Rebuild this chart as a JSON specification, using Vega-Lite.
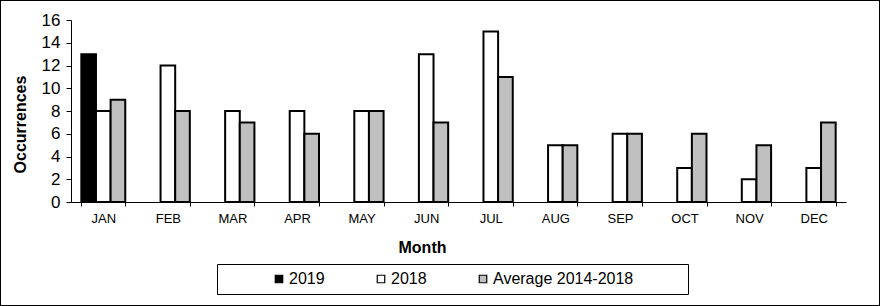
{
  "$schema": "https://vega.github.io/schema/vega-lite/v6.json",
  "width": 880,
  "height": 306,
  "autosize": "none",
  "padding": 0,
  "background": "white",
  "config": {
    "view": {"stroke": "black", "strokeWidth": 2},
    "font": "Liberation Sans",
    "axis": {"labelColor": "black", "titleColor": "black", "tickColor": "black", "domainColor": "black", "grid": false, "labelFont": "Liberation Sans", "titleFont": "Liberation Sans"},
    "legend": {"labelFont": "Liberation Sans", "labelColor": "black"}
  },
  "data": {
    "values": [
      {"month": "JAN", "series": "2019", "value": 13},
      {"month": "JAN", "series": "2018", "value": 8},
      {"month": "JAN", "series": "Average 2014-2018", "value": 9},
      {"month": "FEB", "series": "2018", "value": 12},
      {"month": "FEB", "series": "Average 2014-2018", "value": 8},
      {"month": "MAR", "series": "2018", "value": 8},
      {"month": "MAR", "series": "Average 2014-2018", "value": 7},
      {"month": "APR", "series": "2018", "value": 8},
      {"month": "APR", "series": "Average 2014-2018", "value": 6},
      {"month": "MAY", "series": "2018", "value": 8},
      {"month": "MAY", "series": "Average 2014-2018", "value": 8},
      {"month": "JUN", "series": "2018", "value": 13},
      {"month": "JUN", "series": "Average 2014-2018", "value": 7},
      {"month": "JUL", "series": "2018", "value": 15},
      {"month": "JUL", "series": "Average 2014-2018", "value": 11},
      {"month": "AUG", "series": "2018", "value": 5},
      {"month": "AUG", "series": "Average 2014-2018", "value": 5},
      {"month": "SEP", "series": "2018", "value": 6},
      {"month": "SEP", "series": "Average 2014-2018", "value": 6},
      {"month": "OCT", "series": "2018", "value": 3},
      {"month": "OCT", "series": "Average 2014-2018", "value": 6},
      {"month": "NOV", "series": "2018", "value": 2},
      {"month": "NOV", "series": "Average 2014-2018", "value": 5},
      {"month": "DEC", "series": "2018", "value": 3},
      {"month": "DEC", "series": "Average 2014-2018", "value": 7}
    ]
  },
  "mark": {"type": "bar", "stroke": "black", "strokeWidth": 2},
  "encoding": {
    "x": {
      "field": "month",
      "type": "nominal",
      "sort": ["JAN", "FEB", "MAR", "APR", "MAY", "JUN", "JUL", "AUG", "SEP", "OCT", "NOV", "DEC"],
      "scale": {"range": [71, 846], "paddingInner": 0.32, "paddingOuter": 0.16},
      "axis": {
        "title": "Month",
        "offset": -104,
        "labelAngle": 0,
        "tickBand": "extent",
        "tickSize": 4,
        "labelFontSize": 13,
        "labelPadding": 6,
        "titleFontSize": 16,
        "titleFontWeight": "bold",
        "titleX": 422,
        "titleY": 37,
        "titleBaseline": "top",
        "titleAlign": "center"
      }
    },
    "xOffset": {
      "field": "series",
      "type": "nominal",
      "sort": ["2019", "2018", "Average 2014-2018"],
      "scale": {"paddingInner": 0, "paddingOuter": 0}
    },
    "y": {
      "field": "value",
      "type": "quantitative",
      "scale": {"domain": [0, 16], "range": [202, 20], "nice": false},
      "axis": {
        "title": "Occurrences",
        "offset": -71,
        "values": [0, 2, 4, 6, 8, 10, 12, 14, 16],
        "tickSize": 5,
        "labelFontSize": 17,
        "labelPadding": 6,
        "titleFontSize": 16,
        "titleFontWeight": "bold",
        "titlePadding": 13,
        "titleY": 124
      }
    },
    "fill": {
      "field": "series",
      "type": "nominal",
      "sort": ["2019", "2018", "Average 2014-2018"],
      "scale": {"domain": ["2019", "2018", "Average 2014-2018"], "range": ["black", "white", "#C0C0C0"]},
      "legend": {
        "title": " ",
        "titleOrient": "right",
        "titlePadding": 48,
        "titleFontSize": 16,
        "orient": "none",
        "legendX": 217,
        "legendY": 264,
        "direction": "horizontal",
        "strokeColor": "black",
        "padding": 7,
        "symbolType": "square",
        "symbolSize": 56,
        "symbolOffset": 47,
        "symbolStrokeColor": "black",
        "symbolStrokeWidth": 1.2,
        "labelFontSize": 16,
        "labelOffset": 2,
        "columnPadding": 1
      }
    }
  }
}
